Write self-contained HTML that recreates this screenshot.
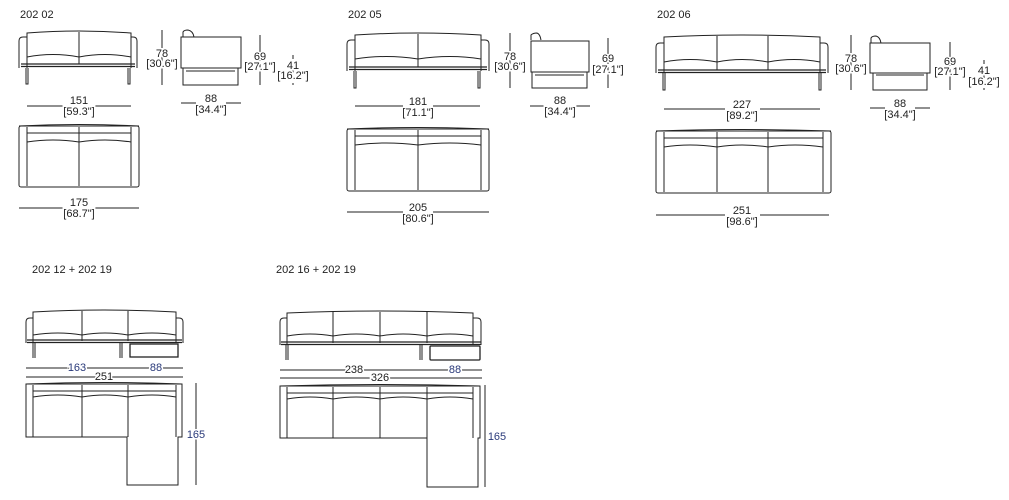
<!DOCTYPE html>
<html><head><meta charset="utf-8"><style>
html,body{margin:0;padding:0;background:#fff;}
svg{display:block;}
text{font-family:"Liberation Sans",sans-serif;font-size:11px;fill:#222;text-anchor:middle;stroke:#fff;stroke-width:3px;paint-order:stroke;}
.t{text-anchor:start;}
.b{fill:#2a3a7a;}
</style></head><body>
<svg width="1009" height="500" viewBox="0 0 1009 500" xmlns="http://www.w3.org/2000/svg">
<g fill="none" stroke="#222" stroke-width="1">

<!-- ===== GROUP 1 : 202 02 ===== -->
<path d="M19,68 V41 Q19,37 23,37 H27 V68"/>
<path d="M131,68 V37 H133 Q137,37 137,41 V68"/>
<path d="M27,57 V33 Q79,29 131,33 V57"/>
<path d="M27,57 Q53,52 79,57 Q105,52 131,57"/>
<line x1="79" y1="32" x2="79" y2="64"/>
<path d="M21,64 H135 M21,66.5 H135" stroke-width="1.3"/>
<path d="M26,68 V84 H28 V68 M128,68 V84 H130 V68"/>
<line x1="162" y1="30" x2="162" y2="85"/>
<path d="M183,37 V32 Q184,30 188,30 Q193,31 194,37"/>
<rect x="181" y="37" width="60" height="31"/>
<path d="M183,68 V85 H238 V68 M186,71 H235"/>
<line x1="260" y1="35" x2="260" y2="85"/>
<line x1="293" y1="55" x2="293" y2="85" stroke-dasharray="4,3"/>
<line x1="181" y1="103" x2="196" y2="103"/><line x1="226" y1="103" x2="241" y2="103"/>
<line x1="27" y1="106" x2="66" y2="106"/><line x1="93" y1="106" x2="131" y2="106"/>
<rect x="19" y="126" width="120" height="61" rx="2"/>
<path d="M19,126 Q79,123 139,126"/>
<path d="M27,127 V186 M131,127 V186"/>
<path d="M27,133 H131 M27,142 Q53,138 79,142 Q105,138 131,142"/>
<line x1="79" y1="127" x2="79" y2="186"/>
<line x1="19" y1="208" x2="66" y2="208"/><line x1="93" y1="208" x2="139" y2="208"/>

<!-- ===== GROUP 2 : 202 05 ===== -->
<path d="M347,71 V44 Q347,40 351,40 H355 V71"/>
<path d="M481,71 V40 H485 Q489,40 489,44 V71"/>
<path d="M355,58 V35 Q418,31 481,35 V58"/>
<path d="M355,59 Q386,54 418,59 Q450,54 481,59"/>
<line x1="418" y1="34" x2="418" y2="67"/>
<path d="M349,67 H487 M349,69.5 H487" stroke-width="1.3"/>
<path d="M354,71 V88 H356 V71 M478,71 V88 H480 V71"/>
<line x1="510" y1="33" x2="510" y2="88"/>
<path d="M531,40 V35 Q533,33 537,33 Q540,34 541,40"/>
<rect x="531" y="41" width="58" height="31"/>
<path d="M532,72 V88 H587 V72 M535,75 H584"/>
<line x1="608" y1="38" x2="608" y2="88"/>
<line x1="530" y1="106" x2="545" y2="106"/><line x1="575" y1="106" x2="590" y2="106"/>
<line x1="355" y1="106" x2="403" y2="106"/><line x1="433" y1="106" x2="480" y2="106"/>
<rect x="347" y="129" width="142" height="62" rx="2"/>
<path d="M347,129 Q418,126 489,129"/>
<path d="M355,130 V190 M481,130 V190"/>
<path d="M355,136 H481 M355,145 Q386,141 418,145 Q450,141 481,145"/>
<line x1="418" y1="130" x2="418" y2="190"/>
<line x1="347" y1="212" x2="403" y2="212"/><line x1="433" y1="212" x2="489" y2="212"/>

<!-- ===== GROUP 3 : 202 06 ===== -->
<path d="M656,73 V47 Q656,43 660,43 H664 V73"/>
<path d="M820,73 V43 H824 Q828,43 828,47 V73"/>
<path d="M664,62 V37 Q742,33 820,37 V62"/>
<path d="M664,62 Q690,57 717,62 Q742,57 768,62 Q794,57 820,62"/>
<path d="M717,36 V70 M768,36 V70"/>
<path d="M658,70 H826 M658,72.5 H826" stroke-width="1.3"/>
<path d="M663,73 V90 H665 V73 M819,73 V90 H821 V73"/>
<line x1="851" y1="35" x2="851" y2="90"/>
<path d="M871,43 V38 Q872,36 876,36 Q880,37 881,43"/>
<rect x="870" y="43" width="60" height="30"/>
<path d="M873,73 V90 H927 V73 M876,75 H924"/>
<line x1="950" y1="42" x2="950" y2="90"/>
<line x1="984" y1="60" x2="984" y2="90" stroke-dasharray="4,3"/>
<line x1="870" y1="108" x2="885" y2="108"/><line x1="915" y1="108" x2="930" y2="108"/>
<line x1="664" y1="109" x2="725" y2="109"/><line x1="760" y1="109" x2="820" y2="109"/>
<rect x="656" y="131" width="175" height="62" rx="2"/>
<path d="M656,131 Q742,128 831,131"/>
<path d="M664,132 V192 M823,132 V192"/>
<path d="M664,138 H823 M664,147 Q690,143 717,147 Q742,143 768,147 Q795,143 823,147"/>
<path d="M717,132 V192 M768,132 V192"/>
<line x1="656" y1="215" x2="725" y2="215"/><line x1="760" y1="215" x2="829" y2="215"/>

<!-- ===== GROUP 4 ===== -->
<path d="M26,343 V322 Q26,318 30,318 H33 V343"/>
<path d="M176,343 V318 H179 Q183,318 183,322 V343"/>
<path d="M33,334 V312 Q104,308 176,312 V334"/>
<path d="M33,335 Q58,331 82,335 Q105,331 128,335 Q152,331 176,335"/>
<path d="M82,311 V341 M128,311 V341"/>
<path d="M27,340 H182 M27,342.5 H182" stroke-width="1.3"/>
<path d="M33,343 V358 M35,343 V358 M120,343 V358 M122,343 V358"/>
<rect x="130" y="344" width="48" height="13" stroke-width="1.3"/>
<line x1="26" y1="368" x2="183" y2="368"/>
<line x1="26" y1="377" x2="183" y2="377"/>
<path d="M26,384 H182 V437 H178 V485 H127 V437 H26 Z"/>
<path d="M26,384 Q104,381 182,384"/>
<path d="M33,385 V437 M176,385 V437"/>
<path d="M33,391 H176 M33,397 Q58,393 82,397 Q105,393 128,397 Q152,393 176,397"/>
<path d="M82,385 V437 M128,385 V437"/>
<line x1="196" y1="383" x2="196" y2="485"/>

<!-- ===== GROUP 5 ===== -->
<path d="M280,345 V322 Q280,318 284,318 H287 V345"/>
<path d="M473,345 V318 H477 Q481,318 481,322 V345"/>
<path d="M287,336 V313 Q380,309 473,313 V336"/>
<path d="M287,336 Q310,332 333,336 Q356,332 380,336 Q403,332 427,336 Q450,332 473,336"/>
<path d="M333,312 V343 M380,312 V343 M427,312 V343"/>
<path d="M281,342 H481 M281,344.5 H481" stroke-width="1.3"/>
<path d="M286,345 V360 M288,345 V360 M420,345 V360 M422,345 V360"/>
<rect x="430" y="346" width="50" height="14" rx="1" stroke-width="1.3"/>
<line x1="280" y1="370" x2="482" y2="370"/>
<line x1="280" y1="378" x2="482" y2="378"/>
<path d="M280,386 H480 V438 H478 V487 H427 V438 H280 Z"/>
<path d="M280,386 Q380,383 480,386"/>
<path d="M287,387 V438 M473,387 V438"/>
<path d="M287,393 H473 M287,399 Q310,395 333,399 Q356,395 380,399 Q403,395 427,399 Q450,395 473,399"/>
<path d="M333,387 V438 M380,387 V438 M427,387 V438"/>
<line x1="485" y1="385" x2="485" y2="487"/>
</g>

<text class="t" x="20" y="18">202 02</text>
<text class="t" x="348" y="18">202 05</text>
<text class="t" x="657" y="18">202 06</text>
<text class="t" x="32" y="273">202 12 + 202 19</text>
<text class="t" x="276" y="273">202 16 + 202 19</text>

<text x="162" y="57">78</text><text x="162" y="67">[30.6"]</text>
<text x="260" y="60">69</text><text x="260" y="70">[27.1"]</text>
<text x="293" y="69">41</text><text x="293" y="79">[16.2"]</text>
<text x="211" y="102">88</text><text x="211" y="113">[34.4"]</text>
<text x="79" y="104">151</text><text x="79" y="115">[59.3"]</text>
<text x="79" y="206">175</text><text x="79" y="217">[68.7"]</text>

<text x="510" y="60">78</text><text x="510" y="70">[30.6"]</text>
<text x="608" y="62">69</text><text x="608" y="73">[27.1"]</text>
<text x="560" y="104">88</text><text x="560" y="115">[34.4"]</text>
<text x="418" y="105">181</text><text x="418" y="116">[71.1"]</text>
<text x="418" y="211">205</text><text x="418" y="222">[80.6"]</text>

<text x="851" y="62">78</text><text x="851" y="72">[30.6"]</text>
<text x="950" y="65">69</text><text x="950" y="75">[27.1"]</text>
<text x="984" y="74">41</text><text x="984" y="85">[16.2"]</text>
<text x="900" y="107">88</text><text x="900" y="118">[34.4"]</text>
<text x="742" y="108">227</text><text x="742" y="119">[89.2"]</text>
<text x="742" y="214">251</text><text x="742" y="225">[98.6"]</text>

<text class="b" x="77" y="371">163</text>
<text class="b" x="156" y="371">88</text>
<text x="104" y="380">251</text>
<text class="b" x="196" y="438">165</text>

<text x="354" y="373">238</text>
<text class="b" x="455" y="373">88</text>
<text x="380" y="381">326</text>
<text class="b" x="497" y="440">165</text>
</svg>
</body></html>
